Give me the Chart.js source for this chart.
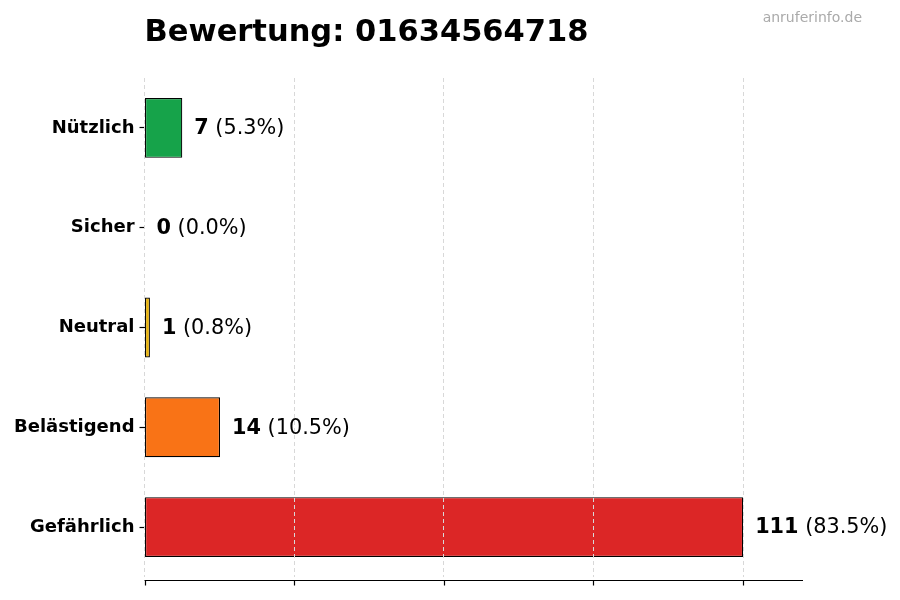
<!DOCTYPE html>
<html>
<head>
<meta charset="utf-8">
<script src="https://cdn.jsdelivr.net/npm/chart.js@4/dist/chart.umd.min.js"></script>
<style>
  html, body { margin: 0; padding: 0; background: #fff; }
  #wrap { width: 900px; height: 600px; }
</style>
</head>
<body>
<div id="wrap"><canvas id="chart"></canvas></div>
<script>
// data
const categories = ['Nützlich', 'Sicher', 'Neutral', 'Belästigend', 'Gefährlich'];
const counts = [7, 0, 1, 14, 111];
const barColors = ['#16a34a', '#3b82f6', '#eab308', '#f97316', '#dc2626'];
const xTicks = [0, 27.75, 55.5, 83.25, 111];
const xMax = 122.1;

const FONT = "'DejaVu Sans', sans-serif";
const total = counts.reduce((a, b) => a + b, 0);

// title, watermark, bottom axis line and its tick marks
const headerPlugin = {
  id: 'header',
  afterDraw(chart) {
    const ctx = chart.ctx;
    const area = chart.chartArea;
    const xScale = chart.scales.x;
    const yLine = Math.round(area.bottom) + 3.5;
    ctx.save();
    ctx.strokeStyle = '#000';
    ctx.lineWidth = 1.2;
    ctx.beginPath();
    ctx.moveTo(area.left, yLine);
    ctx.lineTo(area.right, yLine);
    xTicks.forEach(v => {
      const px = Math.round(xScale.getPixelForValue(v)) + 0.5;
      ctx.moveTo(px, yLine);
      ctx.lineTo(px, yLine + 5);
    });
    ctx.stroke();

    ctx.fillStyle = '#000';
    ctx.font = 'bold 30.5px ' + FONT;
    ctx.textBaseline = 'alphabetic';
    ctx.textAlign = 'left';
    ctx.fillText('Bewertung: 01634564718', area.left, 41);
    ctx.fillStyle = '#aaaaaa';
    ctx.font = '14px ' + FONT;
    ctx.textAlign = 'right';
    ctx.fillText('anruferinfo.de', 862, 22);
    ctx.restore();
  }
};

// value labels next to the bars
const valueLabels = {
  id: 'valueLabels',
  afterDatasetsDraw(chart) {
    const ctx = chart.ctx;
    const meta = chart.getDatasetMeta(0);
    ctx.save();
    ctx.textBaseline = 'middle';
    ctx.textAlign = 'left';
    ctx.fillStyle = '#000';
    meta.data.forEach((bar, i) => {
      const v = counts[i];
      const pct = (v / total * 100).toFixed(1);
      let x = bar.x + 12;
      ctx.font = 'bold 20.8px ' + FONT;
      ctx.fillText(String(v), x, bar.y + 1);
      x += ctx.measureText(String(v)).width;
      ctx.font = '20.8px ' + FONT;
      ctx.fillText(' (' + pct + '%)', x, bar.y + 1);
    });
    ctx.restore();
  }
};

new Chart(document.getElementById('chart'), {
  type: 'bar',
  data: {
    labels: categories,
    datasets: [{
      data: counts,
      backgroundColor: barColors,
      borderColor: '#000',
      borderWidth: 1.2,
      borderSkipped: false,
      barPercentage: 0.6,
      categoryPercentage: 1.0
    }]
  },
  options: {
    indexAxis: 'y',
    responsive: true,
    maintainAspectRatio: false,
    animation: false,
    layout: { padding: { left: 9, right: 97, top: 78, bottom: 23 } },
    plugins: {
      legend: { display: false },
      tooltip: { enabled: false }
    },
    scales: {
      x: {
        min: 0,
        max: xMax,
        afterBuildTicks: (axis) => { axis.ticks = xTicks.map(v => ({ value: v })); },
        ticks: { display: false },
        grid: {
          color: '#d8d8d8',
          lineWidth: 1,
          z: 1,
          drawTicks: false
        },
        border: { display: false, dash: [4, 3] }
      },
      y: {
        grid: {
          offset: false,
          drawOnChartArea: false,
          drawTicks: true,
          tickLength: 5,
          tickColor: '#000',
          tickWidth: 1.2
        },
        border: { display: false },
        ticks: {
          color: '#000',
          padding: 5,
          font: { family: FONT, size: 18, weight: 'bold' }
        }
      }
    }
  },
  plugins: [headerPlugin, valueLabels]
});
</script>
</body>
</html>
